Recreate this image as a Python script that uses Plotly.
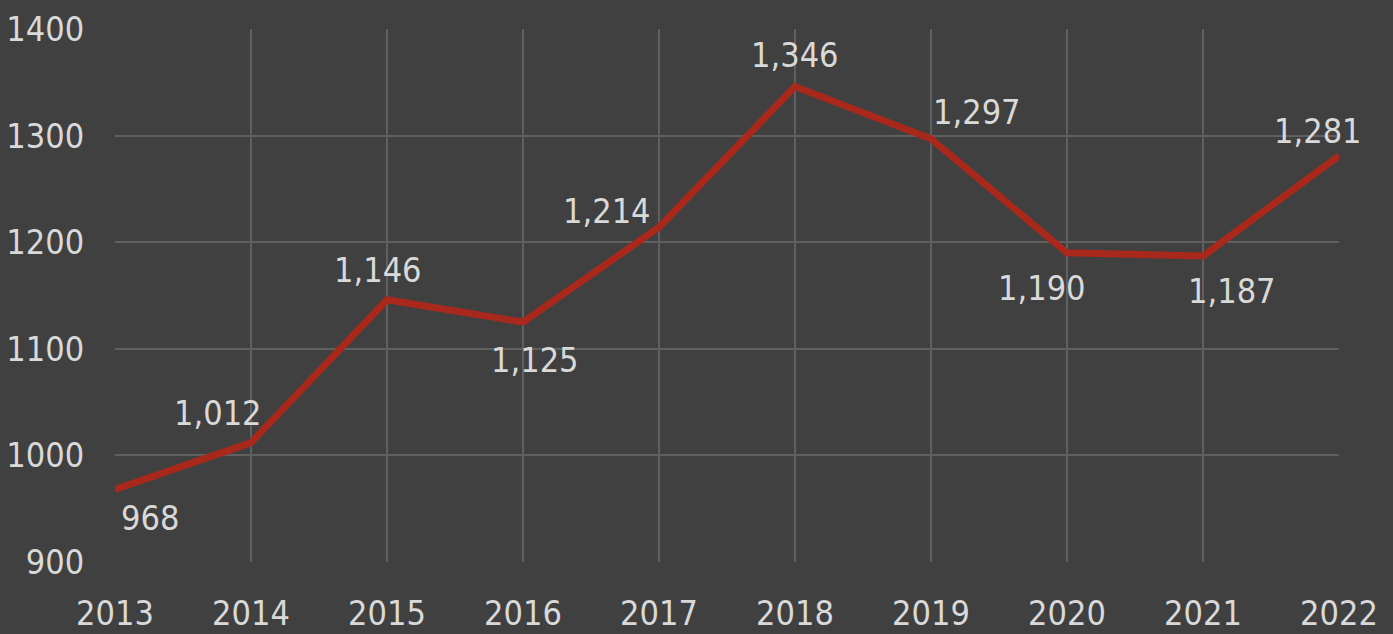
import plotly.graph_objects as go

years = [2013, 2014, 2015, 2016, 2017, 2018, 2019, 2020, 2021, 2022]
values = [968, 1012, 1146, 1125, 1214, 1346, 1297, 1190, 1187, 1281]
y_ticks = [900, 1000, 1100, 1200, 1300, 1400]

# label offsets in pixels (dx, dy) relative to each point
label_offsets = [(35, -28), (-33, 30), (-9, 30), (12, -38), (-52, 16),
                 (0, 32), (46, 27), (-25, -35), (29, -35), (-21, 25)]

BG = "#404040"
GRID = "#606060"
TXT = "#d9d9d9"
RED = "#a8281c"
FONT = "DejaVu Sans Condensed, Liberation Sans Narrow, sans-serif"
FS = 34

fig = go.Figure()
fig.add_trace(go.Scatter(
    x=years, y=values, mode="lines",
    line=dict(color=RED, width=7),
    hoverinfo="skip", cliponaxis=False,
))

for x, v, (dx, dy) in zip(years, values, label_offsets):
    fig.add_annotation(x=x, y=v, text=f"{v:,}", showarrow=False,
                       xshift=dx, yshift=dy,
                       font=dict(family=FONT, size=FS, color=TXT))

fig.update_layout(
    width=1393, height=634,
    paper_bgcolor=BG, plot_bgcolor=BG,
    margin=dict(l=115, r=54, t=29, b=72),
    showlegend=False,
    font=dict(family=FONT, size=FS, color=TXT),
)
fig.update_xaxes(
    range=[2013, 2022], tickvals=years, ticktext=[str(y) for y in years],
    showgrid=True, gridcolor=GRID, gridwidth=2,
    showline=False, zeroline=False, automargin=False,
    ticks="outside", ticklen=21, tickcolor=BG,
    tickfont=dict(family=FONT, size=FS, color=TXT),
)
fig.update_yaxes(
    range=[900, 1400], tickvals=y_ticks, tickformat="d",
    showgrid=True, gridcolor=GRID, gridwidth=2,
    showline=False, zeroline=False, automargin=False,
    ticks="outside", ticklen=23, tickcolor=BG,
    tickfont=dict(family=FONT, size=FS, color=TXT),
)

fig.write_html("out.html", config={"displayModeBar": False},
               post_script="document.body.style.margin='0';document.body.style.overflow='hidden';")
